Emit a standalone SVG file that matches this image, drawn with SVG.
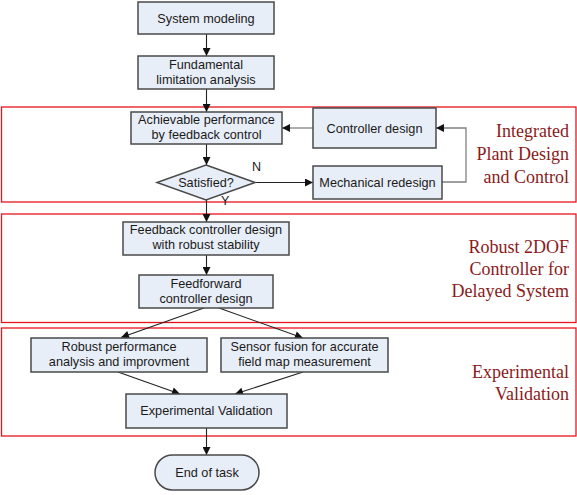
<svg xmlns="http://www.w3.org/2000/svg" width="577" height="495" viewBox="0 0 577 495">
<defs>
<marker id="ah" viewBox="0 0 10 10" refX="10" refY="5" markerWidth="9" markerHeight="8" markerUnits="userSpaceOnUse" orient="auto">
<path d="M0,0 L10,5 L0,10 z" fill="#111"/>
</marker>
<style>
.box{fill:#E8EEF8;stroke:#4a4a4a;stroke-width:1.5}
.t{font-family:"Liberation Sans",Arial,sans-serif;font-size:12.7px;fill:#1a1a1a;text-anchor:middle}
.lbl{font-family:"Liberation Sans",Arial,sans-serif;font-size:12.5px;fill:#1a1a1a}
.sec{fill:none;stroke:#e8141c;stroke-width:1.3}
.st{font-family:"Liberation Serif","Times New Roman",serif;font-size:18px;fill:#8b1a1a;text-anchor:end}
.c{fill:none;stroke:#222;stroke-width:1.1}
.g{fill:none;stroke:#808080;stroke-width:1.3}
</style>
</defs>
<rect width="577" height="495" fill="#fff"/>
<g id="sections">
<rect class="sec" x="1.5" y="107" width="574.5" height="95"/>
<rect class="sec" x="1.5" y="214" width="574.5" height="108.5"/>
<rect class="sec" x="1.5" y="328" width="574.5" height="108"/>
<text class="st"><tspan x="569" y="137">Integrated</tspan><tspan x="569" y="160">Plant Design</tspan><tspan x="569" y="182.5">and Control</tspan></text>
<text class="st"><tspan x="569" y="252.5">Robust 2DOF</tspan><tspan x="569" y="274.5">Controller for</tspan><tspan x="569" y="297">Delayed System</tspan></text>
<text class="st"><tspan x="569" y="378">Experimental</tspan><tspan x="569" y="400">Validation</tspan></text>
</g>
<g id="connectors">
<line class="c" x1="206.5" y1="34" x2="206.5" y2="56" marker-end="url(#ah)"/>
<line class="c" x1="206.5" y1="89" x2="206.5" y2="112" marker-end="url(#ah)"/>
<line class="c" x1="206.5" y1="144" x2="206.5" y2="165" marker-end="url(#ah)"/>
<line class="c" x1="206.5" y1="200" x2="206.5" y2="222" marker-end="url(#ah)"/>
<line class="c" x1="206.5" y1="255" x2="206.5" y2="275" marker-end="url(#ah)"/>
<line class="g" x1="313" y1="128" x2="282" y2="128" marker-end="url(#ah)"/>
<line class="c" x1="255" y1="182.5" x2="313" y2="182.5" marker-end="url(#ah)"/>
<polyline class="g" points="442,182 466,182 466,128 436,128" marker-end="url(#ah)"/>
<line class="c" x1="204" y1="308" x2="121" y2="337.5" marker-end="url(#ah)"/>
<line class="c" x1="219" y1="308" x2="303" y2="338" marker-end="url(#ah)"/>
<line class="c" x1="118" y1="372" x2="180" y2="394" marker-end="url(#ah)"/>
<line class="c" x1="303" y1="372" x2="235" y2="394" marker-end="url(#ah)"/>
<line class="c" x1="206.5" y1="428" x2="206.5" y2="455" marker-end="url(#ah)"/>
<text class="lbl" x="252" y="171">N</text>
<text class="lbl" x="221" y="205">Y</text>
</g>
<g id="system-modeling">
<rect class="box" x="138" y="2" width="136" height="32"/>
<text class="t" x="206" y="22.5">System modeling</text>
</g>
<g id="fundamental">
<rect class="box" x="138" y="56" width="136" height="33"/>
<text class="t"><tspan x="206" y="69">Fundamental</tspan><tspan x="206" y="84">limitation analysis</tspan></text>
</g>
<g id="achievable">
<rect class="box" x="131" y="112" width="151" height="32"/>
<text class="t"><tspan x="206.5" y="123.5">Achievable performance</tspan><tspan x="206.5" y="138.5">by feedback control</tspan></text>
</g>
<g id="controller-design">
<rect class="box" x="313" y="108" width="123" height="40"/>
<text class="t" x="374.5" y="132.5">Controller design</text>
</g>
<g id="satisfied">
<polygon class="box" points="206,165 255,182.5 206,200 157,182.5"/>
<text class="t" x="206" y="187">Satisfied?</text>
</g>
<g id="mechanical-redesign">
<rect class="box" x="313" y="166" width="129" height="33"/>
<text class="t" x="377.5" y="187">Mechanical redesign</text>
</g>
<g id="feedback-controller">
<rect class="box" x="123" y="222" width="166" height="33"/>
<text class="t"><tspan x="206" y="234">Feedback controller design</tspan><tspan x="206" y="249">with robust stability</tspan></text>
</g>
<g id="feedforward">
<rect class="box" x="139" y="275" width="134" height="33"/>
<text class="t"><tspan x="206" y="287.5">Feedforward</tspan><tspan x="206" y="302.5">controller design</tspan></text>
</g>
<g id="robust-performance">
<rect class="box" x="31" y="338" width="176" height="34"/>
<text class="t"><tspan x="119" y="350.5">Robust performance</tspan><tspan x="119" y="365.5">analysis and improvment</tspan></text>
</g>
<g id="sensor-fusion">
<rect class="box" x="221" y="338" width="167" height="34"/>
<text class="t"><tspan x="304.5" y="350.5">Sensor fusion for accurate</tspan><tspan x="304.5" y="365.5">field map measurement</tspan></text>
</g>
<g id="experimental-validation">
<rect class="box" x="126" y="394" width="161" height="34"/>
<text class="t" x="206.5" y="415">Experimental Validation</text>
</g>
<g id="end-of-task">
<rect class="box" x="155" y="455" width="104" height="35" rx="17.5" ry="17.5"/>
<text class="t" x="207" y="477">End of task</text>
</g>
</svg>
